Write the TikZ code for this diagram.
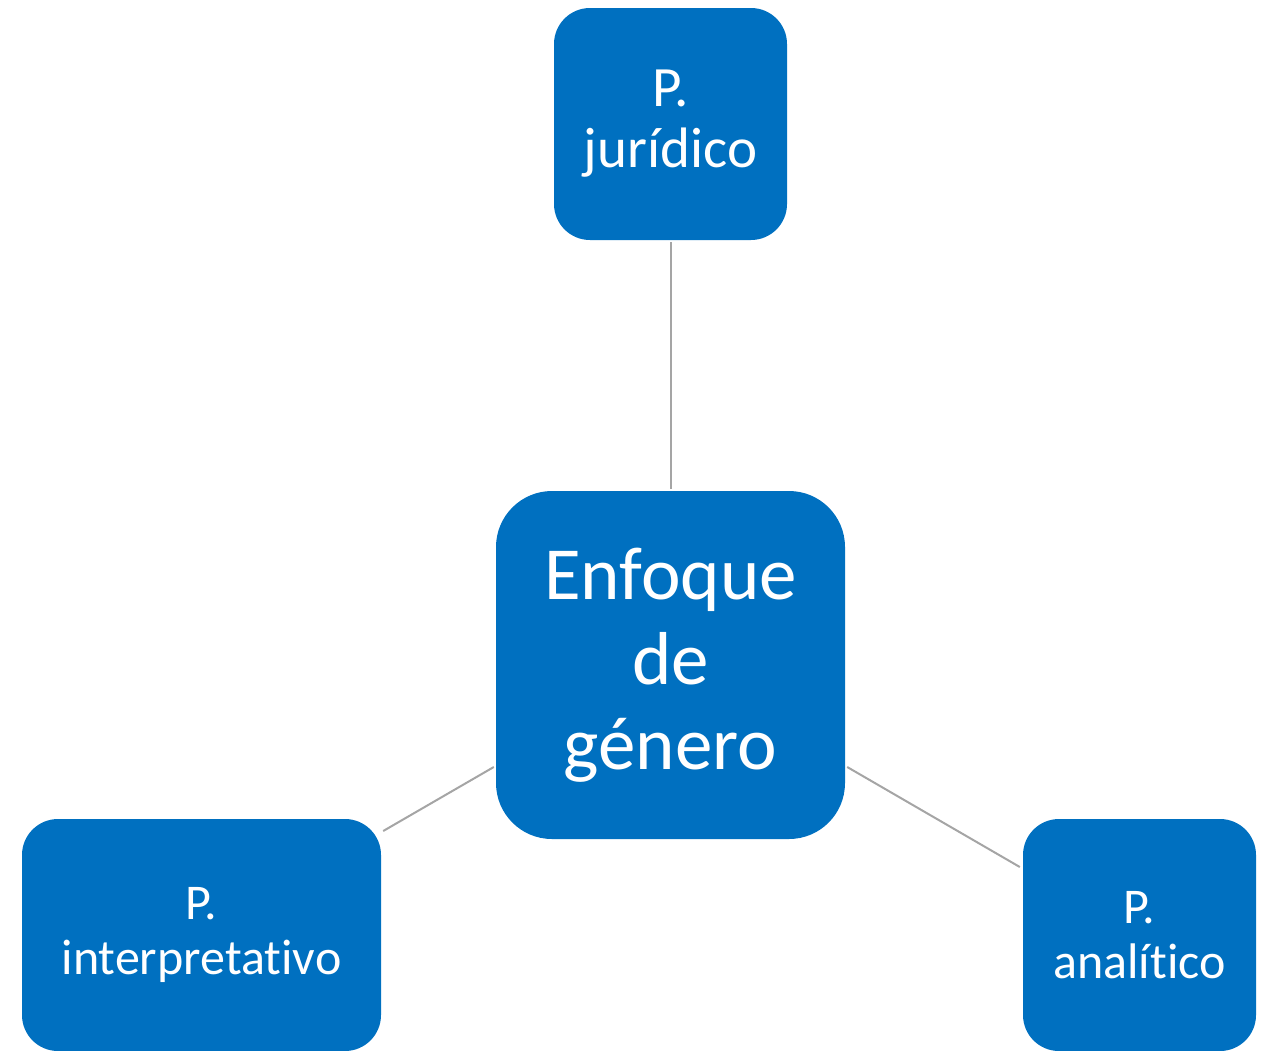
\documentclass[tikz,border=0pt]{standalone}
\usepackage{fontspec}
\setmainfont{Carlito}[Ligatures=NoCommon,RawFeature=-clig]
\definecolor{boxblue}{HTML}{0070C0}
\definecolor{linegray}{HTML}{A5A5A5}
\begin{document}
\begin{tikzpicture}[x=1pt,y=-1pt,
  box/.style={draw=none,fill=boxblue,text=white,align=center,inner sep=0pt,
    rectangle,rounded corners=36pt},
  smallfont/.style={font=\fontsize{57}{61}\selectfont},
  bottomfont/.style={font=\fontsize{50}{55}\selectfont},
  link/.style={draw=linegray,line width=2pt}]
\useasboundingbox (0,0) rectangle (1265,1050);
\node[box,smallfont,minimum width=233pt,minimum height=232pt] (top) at (670.5,124) {P.\\jurídico};
\node[box,minimum width=349pt,minimum height=348pt,rounded corners=56pt,
  font=\fontsize{75}{85}\selectfont] (center) at (670.5,665) {Enfoque\\de\\género};
\node[box,bottomfont,minimum width=359pt,minimum height=232pt] (left) at (201.5,935) {P.\\interpretativo};
\node[box,bottomfont,minimum width=233pt,minimum height=232pt] (right) at (1139.5,935) {P.\\analítico};
\draw[link] ([yshift=-2pt]top.south) -- ([yshift=2pt]center.north);
\draw[link] ([xshift=-2pt,yshift=-102pt]center.west) -- ([xshift=2pt,yshift=104pt]left.east);
\draw[link] ([xshift=2pt,yshift=-102pt]center.east) -- ([xshift=-3pt,yshift=68pt]right.west);
\end{tikzpicture}
\end{document}
